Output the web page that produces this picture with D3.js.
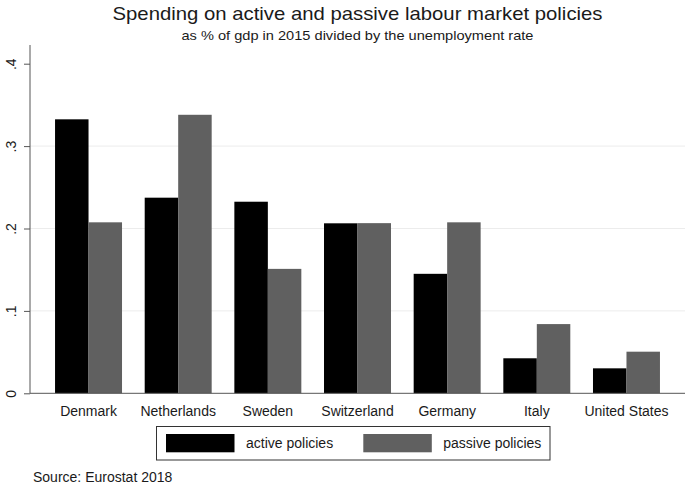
<!DOCTYPE html>
<html>
<head>
<meta charset="utf-8">
<script src="https://cdn.jsdelivr.net/npm/d3@7"></script>
<style>
  body { margin: 0; background: #fff; }
  text { font-family: Arial, "Liberation Sans", sans-serif; fill: #1a1a1a; }
</style>
</head>
<body>
<div id="chart"></div>
<script>
/* DATA */
const countries = ["Denmark", "Netherlands", "Sweden", "Switzerland", "Germany", "Italy", "United States"];
const activeValues = [0.3325, 0.2374, 0.2325, 0.2063, 0.145, 0.0425, 0.0303];
const passiveValues = [0.2075, 0.338, 0.151, 0.2065, 0.2075, 0.084, 0.0505];
const seriesNames = ["active policies", "passive policies"];
const yTicks = [0, 0.1, 0.2, 0.3, 0.4];
const yTickLabels = ["0", ".1", ".2", ".3", ".4"];

/* CONSTANTS */
const width = 685,
  height = 488,
  margin = { top: 45, bottom: 95, left: 30, right: 0 };
const colors = ["#000000", "#606060"];

const rows = countries.map((c, i) => ({ country: c, values: [activeValues[i], passiveValues[i]] }));

const svg = d3.select("#chart")
  .append("svg")
  .attr("width", width)
  .attr("height", height);

// scales
const xScale = d3.scaleBand()
  .domain(countries)
  .range([43.7, 671.3])
  .paddingInner(0.253)
  .paddingOuter(0.1265);

const subScale = d3.scaleBand()
  .domain(seriesNames)
  .range([0, xScale.bandwidth()]);

const yScale = d3.scaleLinear()
  .domain([0, 0.4])
  .range([393.3, 63.7]);

// gridlines
svg.append("g")
  .selectAll("line")
  .data(yTicks.filter(d => d > 0 && d < 0.4))
  .join("line")
  .attr("x1", margin.left)
  .attr("x2", width)
  .attr("y1", d => yScale(d))
  .attr("y2", d => yScale(d))
  .attr("stroke", "#ececec")
  .attr("stroke-width", 1);

// bars
const groups = svg.append("g")
  .selectAll("g")
  .data(rows)
  .join("g")
  .attr("transform", d => `translate(${xScale(d.country)},0)`);

groups.selectAll("rect")
  .data(d => d.values.map((v, i) => ({ key: seriesNames[i], value: v, idx: i })))
  .join("rect")
  .attr("x", d => subScale(d.key))
  .attr("width", subScale.bandwidth())
  .attr("y", d => yScale(d.value))
  .attr("height", d => yScale(0) - yScale(d.value))
  .attr("fill", d => colors[d.idx]);

// y axis (labels rotated, reading upwards)
const yAxis = d3.axisLeft(yScale)
  .tickValues(yTicks)
  .tickFormat((d, i) => yTickLabels[i])
  .tickSize(6);

const yAxisGroup = svg.append("g")
  .attr("transform", `translate(${margin.left},0)`)
  .call(yAxis);
yAxisGroup.select(".domain").remove();
yAxisGroup.selectAll(".tick line").attr("stroke", "#555");
yAxisGroup.selectAll(".tick text")
  .attr("font-size", 14)
  .attr("x", 0)
  .attr("y", 0)
  .attr("dy", 0)
  .attr("text-anchor", "middle")
  .attr("transform", "translate(-14,0) rotate(-90)");

svg.append("line")
  .attr("x1", margin.left).attr("x2", margin.left)
  .attr("y1", margin.top).attr("y2", yScale(0))
  .attr("stroke", "#555");

// x axis
const xAxisGroup = svg.append("g")
  .attr("transform", `translate(0,${yScale(0)})`)
  .call(d3.axisBottom(xScale).tickSize(0).tickPadding(13));
xAxisGroup.select(".domain").remove();
xAxisGroup.selectAll(".tick text").attr("font-size", 14).attr("dy", "0.71em");

svg.append("line")
  .attr("x1", margin.left).attr("x2", width)
  .attr("y1", yScale(0)).attr("y2", yScale(0))
  .attr("stroke", "#555");

// title, centred over the plot region
const titleX = (margin.left + width) / 2;
svg.append("text")
  .attr("x", titleX)
  .attr("y", 20)
  .attr("text-anchor", "middle")
  .attr("font-size", 19)
  .attr("textLength", 490)
  .attr("lengthAdjust", "spacingAndGlyphs")
  .text("Spending on active and passive labour market policies");

svg.append("text")
  .attr("x", titleX)
  .attr("y", 40)
  .attr("text-anchor", "middle")
  .attr("font-size", 13)
  .attr("textLength", 352)
  .attr("lengthAdjust", "spacingAndGlyphs")
  .text("as % of gdp in 2015 divided by the unemployment rate");

// legend
const legend = svg.append("g");
legend.append("rect")
  .attr("x", 156.5).attr("y", 426.5)
  .attr("width", 393.5).attr("height", 33.5)
  .attr("fill", "none")
  .attr("stroke", "#333");

const legendX = [166, 363.3];
seriesNames.forEach((name, i) => {
  legend.append("rect")
    .attr("x", legendX[i]).attr("y", 434)
    .attr("width", 68.5).attr("height", 18.3)
    .attr("fill", colors[i]);
  legend.append("text")
    .attr("x", legendX[i] + 80)
    .attr("y", 448)
    .attr("font-size", 14)
    .text(name);
});

// source
svg.append("text")
  .attr("x", 33)
  .attr("y", 482)
  .attr("font-size", 14)
  .text("Source: Eurostat 2018");
</script>
</body>
</html>
